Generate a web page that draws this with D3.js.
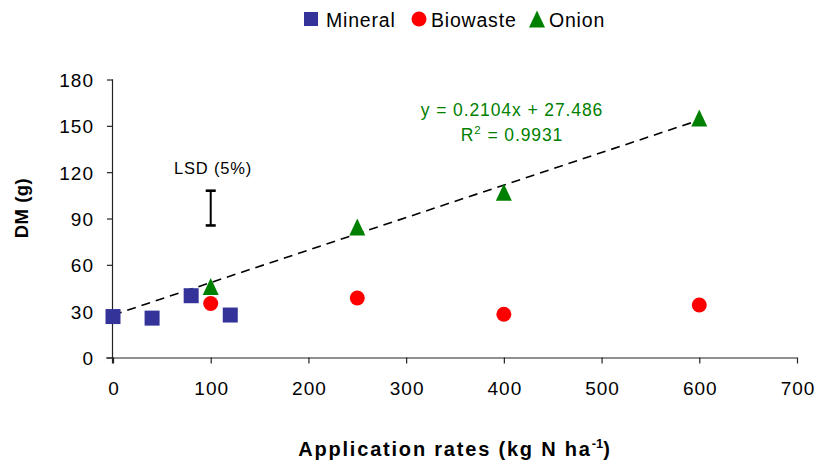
<!DOCTYPE html>
<html>
<head>
<meta charset="utf-8">
<script src="https://cdn.jsdelivr.net/npm/d3@7"></script>
<style>
  html, body { margin: 0; padding: 0; background: #fff; }
  svg { display: block; font-family: "Liberation Sans", Arial, sans-serif; }
</style>
</head>
<body>
<svg id="chart" width="819" height="466"></svg>
<script>
// Dry matter yield versus N application rate, three fertiliser types
const mineralRates = [0, 40, 80, 120];
const mineralDM = [26.5, 25.5, 40, 27.5];
const biowasteRates = [100, 250, 400, 600];
const biowasteDM = [35, 38.5, 28, 34];
const onionRates = [100, 250, 400, 600];
const onionDM = [46, 84.5, 107, 155];

// Linear trend for the onion series
const trendSlope = 0.2104;
const trendIntercept = 27.486;
const trendR2 = 0.9931;
const trendRange = [0, 600];

// LSD (5%) bar
const lsdX = 100;
const lsdRange = [85.5, 108];

const xTicks = [0, 100, 200, 300, 400, 500, 600, 700];
const yTicks = [0, 30, 60, 90, 120, 150, 180];

const svg = d3.select("#chart");
const x = d3.scaleLinear().domain([0, 700]).range([113, 797]);
const y = d3.scaleLinear().domain([0, 180]).range([357.5, 79.5]);

const axisColor = "#222";
const font = "Liberation Sans, Arial, sans-serif";

// Axes
const xAxis = svg.append("g")
  .attr("transform", `translate(0,${y(0)})`)
  .call(d3.axisBottom(x).tickValues(xTicks).tickSize(6).tickPadding(13));
const yAxis = svg.append("g")
  .attr("transform", `translate(${x(0)},0)`)
  .call(d3.axisLeft(y).tickValues(yTicks).tickSize(6).tickPadding(13));
[xAxis, yAxis].forEach(g => {
  g.select(".domain").attr("stroke", axisColor).attr("stroke-width", 1.2);
  g.selectAll(".tick line").attr("stroke", axisColor).attr("stroke-width", 1.2);
  g.selectAll(".tick text").attr("fill", "#000")
    .style("font-size", "19px").style("letter-spacing", "1px").style("font-family", font);
});
yAxis.selectAll(".tick text").attr("dy", "0.36em");
xAxis.selectAll(".tick text").attr("dy", "0.95em").attr("dx", "0.5px");
xAxis.select(".domain").attr("d", `M${x(0) - 7},0.5H${x(700)}`);
yAxis.select(".domain").attr("d", `M-0.5,${y(180)}V${y(0) + 6}`);

// Axis titles
const xTitle = svg.append("text")
  .attr("x", 455).attr("y", 456)
  .attr("text-anchor", "middle")
  .style("font-size", "20px").style("font-weight", "bold").style("letter-spacing", "1.8px");
xTitle.append("tspan").text("Application rates (kg N ha");
xTitle.append("tspan").attr("dy", -8).style("font-size", "13px").style("letter-spacing", "0px").text("-1");
xTitle.append("tspan").attr("dy", 8).text(")");

svg.append("text")
  .attr("transform", `translate(28,208) rotate(-90)`)
  .attr("text-anchor", "middle")
  .style("font-size", "18.5px").style("font-weight", "bold").style("letter-spacing", "0.5px")
  .text("DM (g)");

// Trend line (dashed)
const trendPts = trendRange.map(v => [v, trendSlope * v + trendIntercept]);
svg.append("path")
  .attr("d", d3.line().x(d => x(d[0])).y(d => y(d[1]))(trendPts))
  .attr("fill", "none")
  .attr("stroke", "#000")
  .attr("stroke-width", 1.6)
  .attr("stroke-dasharray", "9,6");

// Markers
const mineralColor = "#333399";
const biowasteColor = "#ff0000";
const onionColor = "#008000";
const sq = 15;
const triPath = "M0,-8.5L8,8.5L-8,8.5Z";

svg.append("g").selectAll("rect")
  .data(d3.zip(mineralRates, mineralDM))
  .join("rect")
  .attr("x", d => x(d[0]) - sq / 2)
  .attr("y", d => y(d[1]) - sq / 2)
  .attr("width", sq).attr("height", sq)
  .attr("fill", mineralColor);

svg.append("g").selectAll("circle")
  .data(d3.zip(biowasteRates, biowasteDM))
  .join("circle")
  .attr("cx", d => x(d[0]))
  .attr("cy", d => y(d[1]))
  .attr("r", 7.5)
  .attr("fill", biowasteColor);

svg.append("g").selectAll("path")
  .data(d3.zip(onionRates, onionDM))
  .join("path")
  .attr("transform", d => `translate(${x(d[0])},${y(d[1])})`)
  .attr("d", triPath)
  .attr("fill", onionColor);

// LSD bar
const lsd = svg.append("g").attr("stroke", "#000").attr("stroke-width", 2);
lsd.append("line").attr("x1", x(lsdX)).attr("x2", x(lsdX))
  .attr("y1", y(lsdRange[0])).attr("y2", y(lsdRange[1]));
lsdRange.forEach(v => {
  lsd.append("line").attr("x1", x(lsdX) - 5).attr("x2", x(lsdX) + 5)
    .attr("y1", y(v)).attr("y2", y(v)).attr("stroke-width", 2.6);
});
svg.append("text")
  .attr("x", 213).attr("y", 174)
  .attr("text-anchor", "middle")
  .style("font-size", "16.5px").style("letter-spacing", "0.8px")
  .text("LSD (5%)");

// Equation
const eq = svg.append("g").attr("fill", onionColor).style("font-size", "17.5px").style("letter-spacing", "0.9px");
eq.append("text").attr("x", 512).attr("y", 116).attr("text-anchor", "middle")
  .text(`y = ${trendSlope}x + ${trendIntercept}`);
const r2 = eq.append("text").attr("x", 512).attr("y", 141).attr("text-anchor", "middle");
r2.append("tspan").text("R");
r2.append("tspan").attr("dy", -7).style("font-size", "11.5px").text("2");
r2.append("tspan").attr("dy", 7).text(` = ${trendR2}`);

// Legend
const legend = svg.append("g").style("font-size", "19.5px").style("letter-spacing", "0.8px");
legend.append("rect").attr("x", 304).attr("y", 12).attr("width", 14).attr("height", 14).attr("fill", mineralColor);
legend.append("text").attr("x", 326).attr("y", 26.5).text("Mineral");
legend.append("circle").attr("cx", 419).attr("cy", 19).attr("r", 7.5).attr("fill", biowasteColor);
legend.append("text").attr("x", 431).attr("y", 26.5).text("Biowaste");
legend.append("path").attr("transform", "translate(537,19)").attr("d", triPath).attr("fill", onionColor);
legend.append("text").attr("x", 549).attr("y", 26.5).text("Onion");
</script>
</body>
</html>
